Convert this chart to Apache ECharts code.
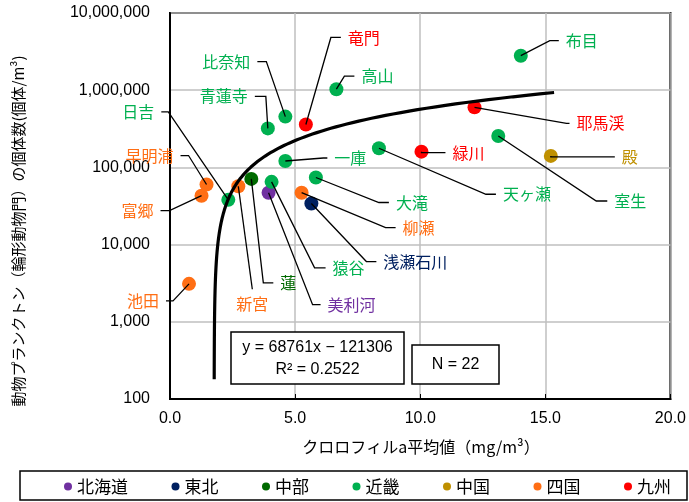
<!DOCTYPE html>
<html>
<head>
<meta charset="utf-8">
<script src="https://cdn.jsdelivr.net/npm/echarts@6/dist/echarts.min.js"></script>
<style>html,body{margin:0;padding:0;background:#fff;}#c{width:689px;height:502px;}</style>
</head>
<body>
<div id="c"></div>
<script>
// ---- data ----
const regionNames = ['北海道', '東北', '中部', '近畿', '中国', '四国', '九州'];
const siteNames = ['池田', '富郷', '早明浦', '日吉', '新宮', '蓮', '美利河', '猿谷', '青蓮寺', '比奈知', '一庫',
  '柳瀬', '竜門', '浅瀬石川', '大滝', '高山', '天ヶ瀬', '緑川', '耶馬渓', '室生', '殿', '布目'];
const chlA = [0.76, 1.26, 1.46, 2.33, 2.73, 3.25, 3.94, 4.06, 3.91, 4.61, 4.61,
  5.26, 5.43, 5.65, 5.83, 6.65, 8.35, 10.05, 12.17, 13.12, 15.22, 14.02];
const rotifers = [3100, 43000, 60000, 38000, 57000, 71000, 47000, 65000, 320000, 455000, 121000,
  47000, 360000, 34000, 74000, 1030000, 177000, 160000, 600000, 255000, 141000, 2800000];
const siteRegion = ['四国', '四国', '四国', '近畿', '四国', '中部', '北海道', '近畿', '近畿', '近畿', '近畿',
  '四国', '九州', '東北', '近畿', '近畿', '近畿', '九州', '九州', '近畿', '中国', '近畿'];
const trendSlope = 68761, trendIntercept = -121306, trendR2 = 0.2522;
const trendYStart = 180, trendXEnd = 15.35;
const yTicks = [100, 1000, 10000, 100000, 1000000, 10000000];
const xTicks = [0, 5, 10, 15, 20];

// ---- styles / layout ----
const regionColors = {'北海道': '#7030A0', '東北': '#002060', '中部': '#006A00', '近畿': '#00B050',
  '中国': '#BF9000', '四国': '#FF6E14', '九州': '#FF0000'};
// leader line layout per site: [dx, dy, h] in px relative to the point
const leaderLayout = [[-16, 17, -7], [-32, 15, -9], [-18, -29, -8], [-60, -88, -7], [14, 103, 0], [12, 104, 10],
  [44, 112, 8], [43, 86, 11], [-2, -32, -11], [-19, -55, -9], [38, -3, 4], [84, 35, 10], [25, -87, 10],
  [55, 58, 10], [63, 25, 10], [8, -13, 10], [107, 46, 10], [0, 1, 24], [92, 16, 3], [98, 65, 11],
  [0, 1, 64], [29, -15, 9]];

const jp = '"Noto Sans CJK JP", "Noto Sans", sans-serif';
const lat = '"Liberation Sans", Arial, sans-serif';

// trend line points (from the displayed regression equation)
const trendPts = [];
{
  const l0 = Math.log10(trendYStart), l1 = Math.log10(trendSlope * trendXEnd + trendIntercept);
  for (let i = 0; i <= 200; i++) {
    const yv = Math.pow(10, l0 + (l1 - l0) * i / 200);
    trendPts.push([(yv - trendIntercept) / trendSlope, yv]);
  }
}

const scatterSeries = regionNames.map(r => ({
  name: r, type: 'scatter', symbol: 'circle', symbolSize: 14, z: 2,
  itemStyle: {color: regionColors[r], opacity: 1},
  data: siteNames.map((n, i) => siteRegion[i] === r ? [chlA[i], rotifers[i], n] : null).filter(d => d)
}));

const labelSeries = {
  type: 'custom', z: 5, silent: true,
  data: siteNames.map((n, i) => [chlA[i], rotifers[i], i]),
  renderItem: function (params, api) {
    const i = api.value(2);
    const p = api.coord([api.value(0), api.value(1)]);
    const L = leaderLayout[i];
    const ex = p[0] + L[0], ey = p[1] + L[1], hx = ex + L[2];
    const col = regionColors[siteRegion[i]];
    let tx, ty, align, vAlign = 'middle';
    if (L[2] > 0) { tx = hx + 7; ty = ey; align = 'left'; }
    else if (L[2] < 0) { tx = hx - 7; ty = ey; align = 'right'; }
    else { tx = ex; ty = ey + 15; align = 'center'; }
    return {
      type: 'group',
      children: [
        {type: 'polyline', shape: {points: [p, [ex, ey], [hx, ey]]},
          style: {stroke: '#000', lineWidth: 1.3, fill: null}},
        {type: 'text', x: tx, y: ty,
          style: {text: siteNames[i], fill: col, font: '16px ' + jp, align: align, verticalAlign: vAlign}}
      ]
    };
  }
};

const chart = echarts.init(document.getElementById('c'), null, {renderer: 'canvas'});
chart.setOption({
  animation: false,
  backgroundColor: '#fff',
  grid: {left: 170, right: 16, top: 13, bottom: 103, show: true, borderColor: '#000', borderWidth: 2},
  xAxis: {
    type: 'value', min: xTicks[0], max: xTicks[xTicks.length - 1], interval: 5,
    axisLine: {lineStyle: {color: '#000', width: 2}},
    axisTick: {show: true, inside: true, length: 5, lineStyle: {color: '#000'}},
    axisLabel: {color: '#000', fontSize: 16, fontFamily: lat, margin: 12, formatter: v => v.toFixed(1)},
    splitLine: {show: true, lineStyle: {color: '#BFBFBF', width: 1.5}}
  },
  yAxis: {
    type: 'log', logBase: 10, min: yTicks[0], max: yTicks[yTicks.length - 1],
    axisLine: {lineStyle: {color: '#000', width: 2}},
    axisTick: {show: false},
    axisLabel: {color: '#000', fontSize: 16, fontFamily: lat, margin: 20,
      formatter: v => Math.round(v).toLocaleString('en-US')},
    splitLine: {show: true, lineStyle: {color: '#BFBFBF', width: 1.5}},
    minorTick: {show: false}
  },
  legend: {
    data: regionNames, left: 59, top: 473, itemGap: 43.5, itemWidth: 8, itemHeight: 8,
    icon: 'circle', textStyle: {fontSize: 17, fontFamily: jp, color: '#000', fontWeight: 'normal'},
    selectedMode: false
  },
  series: [
    ...scatterSeries,
    {type: 'line', data: trendPts, showSymbol: false, symbol: 'none', z: 4, smooth: false,
      lineStyle: {color: '#000', width: 3.2}, silent: true},
    labelSeries
  ],
  graphic: [
    {type: 'rect', shape: {x: 20, y: 471, width: 667, height: 29}, style: {fill: null, stroke: '#000', lineWidth: 1.5}, z: 1},
    {type: 'rect', shape: {x: 231, y: 332, width: 173, height: 52}, style: {fill: '#fff', stroke: '#000', lineWidth: 1.5}, z: 10},
    {type: 'text', x: 317.5, y: 348, z: 11, style: {text: 'y = ' + trendSlope + 'x − ' + Math.abs(trendIntercept), font: '16px ' + lat, fill: '#000', align: 'center', verticalAlign: 'middle'}},
    {type: 'text', x: 317.5, y: 370, z: 11, style: {text: 'R² = ' + trendR2, font: '16px ' + lat, fill: '#000', align: 'center', verticalAlign: 'middle'}},
    {type: 'rect', shape: {x: 412, y: 345, width: 87, height: 39}, style: {fill: '#fff', stroke: '#000', lineWidth: 1.5}, z: 10},
    {type: 'text', x: 455.5, y: 365, z: 11, style: {text: 'N = ' + siteNames.length, font: '16px ' + lat, fill: '#000', align: 'center', verticalAlign: 'middle'}},
    {type: 'text', x: 421, y: 447, style: {text: 'クロロフィルa平均値（mg/m³）', font: '16px ' + jp, fill: '#000', align: 'center', verticalAlign: 'middle'}},
    {type: 'text', x: 18, y: 231, rotation: Math.PI / 2, style: {text: '動物プランクトン（輪形動物門）の個体数(個体/m³)', font: '15px ' + jp, fill: '#000', align: 'center', verticalAlign: 'middle'}}
  ]
});
</script>
</body>
</html>
